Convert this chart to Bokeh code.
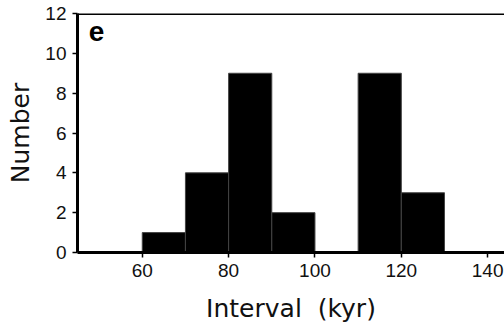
from bokeh.plotting import figure
from bokeh.models import FixedTicker, Span, Label, ColumnDataSource, Range1d
from bokeh.embed import file_html
from bokeh.resources import INLINE

# Histogram data (interval bins in kyr and counts)
bin_left = [60, 70, 80, 90, 100, 110, 120, 130]
bin_right = [70, 80, 90, 100, 110, 120, 130, 140]
counts = [1, 4, 9, 2, 0, 9, 3, 0]
x_ticks = [60, 80, 100, 120, 140]
y_ticks = [0, 2, 4, 6, 8, 10, 12]

src = ColumnDataSource(dict(left=bin_left, right=bin_right, top=counts,
                            bottom=[0] * len(counts)))

p = figure(width=504, height=325, output_backend="svg", toolbar_location=None,
           x_range=Range1d(45, 143.9), y_range=Range1d(0, 12),
           min_border_left=77, min_border_right=0, min_border_top=13,
           min_border_bottom=72)

p.quad(left="left", right="right", top="top", bottom="bottom", source=src,
       fill_color="black", line_color="#444444", line_width=1)

p.grid.visible = False
p.outline_line_color = None
p.background_fill_color = "white"
p.border_fill_color = "white"

for ax in (p.xaxis, p.yaxis):
    ax.axis_line_width = 3
    ax.axis_line_color = "black"
    ax.major_tick_line_width = 1.5
    ax.major_tick_line_color = "black"
    ax.major_tick_out = 5
    ax.major_tick_in = 0
    ax.minor_tick_line_color = None
    ax.major_label_text_font = "Liberation Sans"
    ax.major_label_text_font_size = "19px"
    ax.major_label_text_color = "#111111"
    ax.axis_label_text_font = "DejaVu Sans"
    ax.axis_label_text_font_size = "25px"
    ax.axis_label_text_font_style = "normal"
    ax.axis_label_text_color = "#111111"

p.xaxis.ticker = FixedTicker(ticks=x_ticks)
p.yaxis.ticker = FixedTicker(ticks=y_ticks)
p.xaxis.axis_label = "Interval\u00a0 (kyr)"
p.yaxis.axis_label = "Number"
p.xaxis.major_label_standoff = 6
p.yaxis.major_label_standoff = 6
p.xaxis.axis_label_standoff = 14
p.yaxis.axis_label_standoff = 7

top_border = Span(location=12, dimension="width", line_color="black", line_width=3)
p.add_layout(top_border)

p.add_layout(Label(x=47.6, y=11.12, text="e", text_font="Liberation Sans",
                   text_font_style="bold", text_font_size="28px",
                   text_baseline="alphabetic", text_align="left", text_color="black"))

open("out.html", "w").write(file_html(p, INLINE))
